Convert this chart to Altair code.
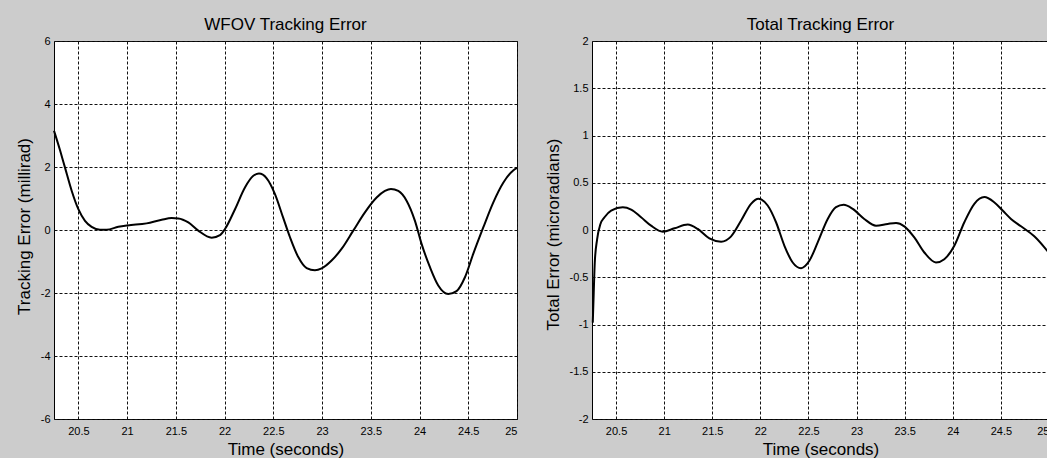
import altair as alt
import pandas as pd

# Time axis shared by both panels (seconds)
x_ticks = [20.5, 21, 21.5, 22, 22.5, 23, 23.5, 24, 24.5, 25]
x_domain = [20.25, 25]

# WFOV tracking error, millirad
wfov_t = [20.25, 20.312, 20.363, 20.432, 20.50, 20.568, 20.636, 20.722, 20.79, 20.91,
          21.006, 21.20, 21.355, 21.457, 21.526, 21.628, 21.73, 21.867, 21.953, 22.004,
          22.107, 22.209, 22.295, 22.353, 22.432, 22.517, 22.60, 22.671, 22.756, 22.842,
          22.927, 22.996, 23.098, 23.20, 23.32, 23.44, 23.56, 23.645, 23.707, 23.782,
          23.867, 23.953, 24.021, 24.107, 24.192, 24.295, 24.38, 24.466, 24.551, 24.654,
          24.756, 24.859, 24.961, 25.0]
wfov_err = [3.15, 2.53, 1.98, 1.24, 0.66, 0.29, 0.10, 0.01, 0.01, 0.10,
            0.146, 0.21, 0.325, 0.378, 0.368, 0.24, -0.02, -0.243, -0.16, 0.03,
            0.66, 1.35, 1.72, 1.79, 1.64, 1.14, 0.40, -0.23, -0.86, -1.21,
            -1.28, -1.22, -0.97, -0.60, -0.02, 0.56, 1.03, 1.24, 1.305, 1.24,
            0.93, 0.29, -0.44, -1.18, -1.76, -2.03, -1.94, -1.50, -0.76, 0.08,
            0.87, 1.50, 1.89, 1.97]
wfov_ticks = [-6, -4, -2, 0, 2, 4, 6]

# Total tracking error, microradians
total_t = [20.258, 20.268, 20.279, 20.303, 20.338, 20.38, 20.449, 20.57, 20.657, 20.76,
           20.864, 20.986, 21.107, 21.245, 21.349, 21.47, 21.592, 21.696, 21.80, 21.903,
           21.98, 22.076, 22.163, 22.25, 22.336, 22.423, 22.509, 22.596, 22.70, 22.786,
           22.866, 22.96, 23.08, 23.202, 23.323, 23.41, 23.496, 23.60, 23.704, 23.825,
           23.912, 24.016, 24.12, 24.224, 24.328, 24.43, 24.518, 24.605, 24.709, 24.847,
           24.996]
total_err = [-0.98, -0.66, -0.34, -0.10, 0.064, 0.135, 0.206, 0.24, 0.216, 0.135,
             0.046, -0.018, 0.018, 0.057, 0.011, -0.089, -0.124, -0.067, 0.10, 0.277,
             0.33, 0.259, 0.082, -0.167, -0.344, -0.404, -0.326, -0.131, 0.117, 0.241,
             0.266, 0.223, 0.117, 0.046, 0.064, 0.074, 0.039, -0.078, -0.238, -0.344,
             -0.309, -0.167, 0.082, 0.277, 0.348, 0.294, 0.206, 0.117, 0.039, -0.067,
             -0.238]
total_ticks = [-2, -1.5, -1, -0.5, 0, 0.5, 1, 1.5, 2]

FONT = "Liberation Sans"
LABEL_EXPR = "datum.value + ''"


def panel(t, err, title, y_title, y_domain, y_ticks, width, height,
          y_title_x, y_title_y):
    df = pd.DataFrame({"t": t, "err": err})
    return (
        alt.Chart(df)
        .mark_line(color="black", strokeWidth=2, interpolate="monotone")
        .encode(
            x=alt.X(
                "t:Q",
                scale=alt.Scale(domain=x_domain, nice=False, zero=False),
                axis=alt.Axis(values=x_ticks, title="Time (seconds)",
                              labelExpr=LABEL_EXPR, titleY=35,
                              titleBaseline="alphabetic", labelPadding=6),
            ),
            y=alt.Y(
                "err:Q",
                scale=alt.Scale(domain=y_domain, nice=False, zero=False),
                axis=alt.Axis(values=y_ticks, title=y_title,
                              labelExpr=LABEL_EXPR, titleX=y_title_x,
                              titleY=y_title_y, titleBaseline="middle",
                              labelPadding=4),
            ),
        )
        .properties(
            width=width,
            height=height,
            title=alt.TitleParams(
                text=title, font=FONT, fontSize=17, fontWeight="normal",
                color="black", anchor="middle", frame="group",
                baseline="alphabetic", offset=-12,
            ),
        )
    )


left = panel(wfov_t, wfov_err, "WFOV Tracking Error", "Tracking Error (millirad)",
             [-6, 6], wfov_ticks, 463, 378, -29.6, 185)
right = panel(total_t, total_err, "Total Tracking Error", "Total Error (microradians)",
              [-2, 2], total_ticks, 457, 378, -38.8, 193)

# The right panel runs past the page edge, so its last time label is cut off.
chart = (
    alt.hconcat(left, right, spacing=21)
    .properties(background="#cccccc",
                padding={"left": 14, "top": 15, "right": -7, "bottom": 0})
    .configure_view(stroke="black", strokeWidth=1, fill="white")
    .configure_axis(
        grid=True, gridColor="#111111", gridDash=[3, 2], gridWidth=1, gridOpacity=1,
        domain=False, ticks=False, tickSize=0,
        labelFont=FONT, labelFontSize=11, labelColor="black",
        titleFont=FONT, titleFontSize=17, titleFontWeight="normal", titleColor="black",
    )
)

chart.save("out.html", embed_options={"renderer": "svg", "actions": False})
